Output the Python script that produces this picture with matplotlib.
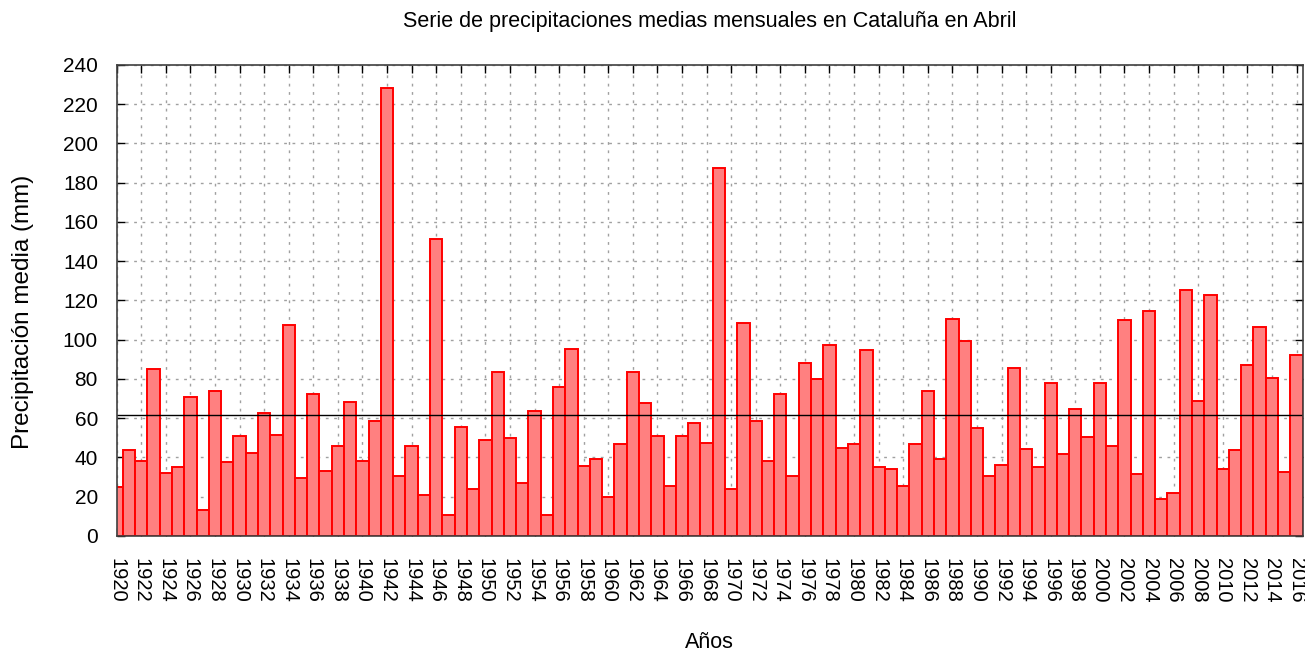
import matplotlib
matplotlib.use("Agg")
import matplotlib.pyplot as plt
import numpy as np

plt.rcParams['font.family'] = ['Liberation Sans', 'DejaVu Sans']

# April monthly mean precipitation, Catalonia (mm)
years = np.arange(1920, 2017)
precip = [25.1, 43.8, 38.2, 84.9, 32.3, 35.0, 71.0, 13.2, 73.7, 37.5,
          50.9, 42.4, 62.8, 51.4, 107.6, 29.4, 72.3, 33.3, 45.8, 68.1,
          38.2, 58.6, 228.4, 30.7, 46.0, 21.1, 151.4, 10.7, 55.7, 23.8,
          48.9, 83.5, 50.1, 27.2, 63.5, 10.7, 75.7, 95.2, 35.7, 39.2,
          19.7, 46.7, 83.5, 67.6, 50.9, 25.5, 50.9, 57.7, 47.5, 187.6,
          23.8, 108.3, 58.7, 38.4, 72.5, 30.7, 88.3, 80.0, 97.3, 44.7,
          46.7, 94.6, 35.1, 34.3, 25.5, 46.7, 73.9, 39.0, 110.5, 99.5,
          55.2, 30.7, 36.2, 85.4, 44.1, 35.0, 78.1, 41.8, 64.7, 50.3,
          78.1, 46.0, 109.8, 31.6, 114.6, 18.8, 21.7, 125.3, 68.9, 122.9,
          34.1, 43.8, 87.1, 106.5, 80.6, 32.8, 92.0]
media = 61.6

fig = plt.figure(figsize=(13.05, 6.53), dpi=100)
ax = fig.add_axes([0.0894, 0.1792, 0.9088, 0.7213])

ax.bar(years, precip, width=1.0, color='#ff8080', edgecolor='#ff0000',
       linewidth=1.4, zorder=2)
ax.axhline(media, color='black', linewidth=1.0, zorder=3)

ax.set_xlim(1920, 2016.5)
ax.set_ylim(0, 240)
ax.set_yticks(np.arange(0, 241, 20))
ax.set_xticks(np.arange(1920, 2017, 2))
ax.set_xticklabels([str(y) for y in range(1920, 2017, 2)], rotation=-90,
                   ha='center', va='top')

ax.grid(True, color='#a0a0a0', linestyle=(0, (2, 4)), linewidth=1.0, zorder=0)
ax.set_axisbelow(True)
ax.tick_params(direction='in', length=6, width=1, top=True, right=True,
               labelsize=15, color='black')
ax.tick_params(axis='x', labelsize=14.5, pad=16)
ax.tick_params(axis='y', pad=13.5)
for s in ax.spines.values():
    s.set_color('#404040')
    s.set_linewidth(1.2)
    s.set_zorder(4)

ax.text(0.5, 1.0913, 'Serie de precipitaciones medias mensuales en Cataluña en Abril',
        transform=ax.transAxes, fontsize=15.5, ha='center', va='center')
ax.set_ylabel('Precipitación media (mm)', fontsize=17.5, va='center')
ax.yaxis.set_label_coords(-0.079, 0.475)
ax.set_xlabel('Años', fontsize=15.5, va='center')
ax.xaxis.set_label_coords(0.5, -0.227)

fig.savefig('out.png', dpi=100)
